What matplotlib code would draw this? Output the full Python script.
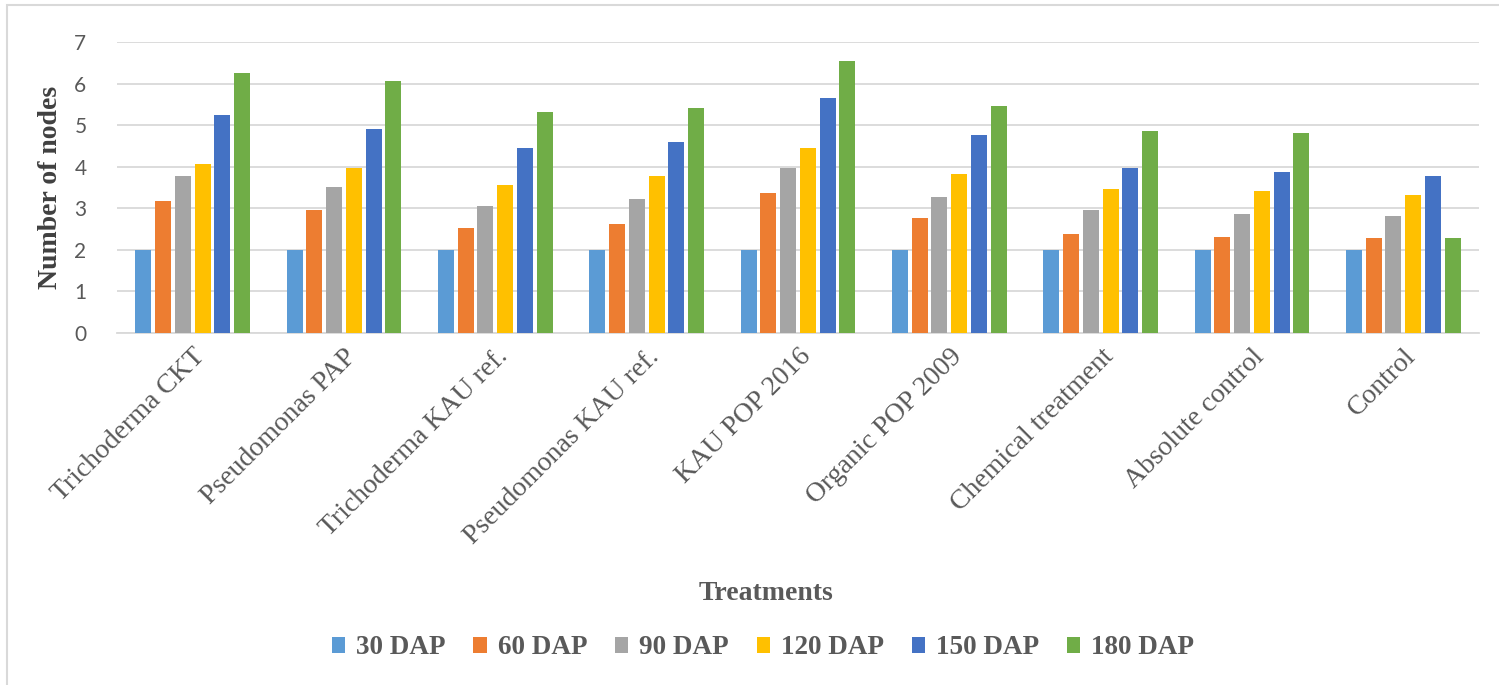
import matplotlib
matplotlib.use("Agg")
import matplotlib.pyplot as plt
from matplotlib.patches import Rectangle
import numpy as np

categories = ["Trichoderma CKT", "Pseudomonas PAP", "Trichoderma KAU ref.",
              "Pseudomonas KAU ref.", "KAU POP 2016", "Organic POP 2009",
              "Chemical treatment", "Absolute control", "Control"]
series_names = ["30 DAP", "60 DAP", "90 DAP", "120 DAP", "150 DAP", "180 DAP"]
dap30 = [2, 2, 2, 2, 2, 2, 2, 2, 2]
dap60 = [3.17, 2.95, 2.52, 2.62, 3.36, 2.76, 2.38, 2.30, 2.28]
dap90 = [3.77, 3.51, 3.05, 3.22, 3.96, 3.27, 2.95, 2.86, 2.81]
dap120 = [4.06, 3.96, 3.56, 3.77, 4.45, 3.82, 3.46, 3.41, 3.31]
dap150 = [5.24, 4.90, 4.45, 4.59, 5.65, 4.76, 3.96, 3.87, 3.77]
dap180 = [6.25, 6.06, 5.31, 5.41, 6.54, 5.46, 4.86, 4.81, 2.28]
colors = ["#5B9BD5", "#ED7D31", "#A5A5A5", "#FFC000", "#4472C4", "#70AD47"]
yticks = [0, 1, 2, 3, 4, 5, 6, 7]

W, H = 1499, 685
fig = plt.figure(figsize=(W / 100, H / 100), dpi=100)
left, right, top, bottom = 117, 1479, 42, 333
ax = fig.add_axes([left / W, 1 - bottom / H, (right - left) / W, (bottom - top) / H])

series = [dap30, dap60, dap90, dap120, dap150, dap180]
x = np.arange(len(categories))
step = 0.1306
width = 0.1055
for i, (vals, c, name) in enumerate(zip(series, colors, series_names)):
    ax.bar(x + (i - 2.5) * step, vals, width=width, color=c, label=name, zorder=3)

ax.set_xlim(-0.5, len(categories) - 0.5)
ax.set_ylim(0, 7)
ax.set_yticks(yticks)
ax.set_yticklabels([str(t) for t in yticks], fontfamily="Lato", fontsize=15, color="#595959")
ax.tick_params(axis="y", length=0, pad=22)
ax.tick_params(axis="x", length=0, pad=8)
ax.set_xticks(x)
ax.set_xticklabels(categories, rotation=45, ha="right", va="top", rotation_mode="anchor",
                   fontfamily="Liberation Serif", fontsize=20, color="#595959")
ax.grid(axis="y", color="#d9d9d9", lw=1.3, zorder=0)
for s in ["top", "right", "left"]:
    ax.spines[s].set_visible(False)
ax.spines["bottom"].set_color("#d9d9d9")
ax.spines["bottom"].set_linewidth(1.3)

fig.text(51 / W, 1 - 187 / H, "Number of nodes", rotation=90, ha="center", va="center",
         fontfamily="Liberation Serif", fontweight="bold", fontsize=20, color="#404040")
fig.text(766 / W, 1 - 594 / H, "Treatments", ha="center", va="center",
         fontfamily="Liberation Serif", fontweight="bold", fontsize=20, color="#595959")

leg = fig.legend(loc="center", bbox_to_anchor=(763 / W, 1 - 648 / H), ncol=6, frameon=False,
                 prop={"family": "Liberation Serif", "weight": "bold", "size": 19.5},
                 handlelength=0.5, handleheight=0.5, handletextpad=0.4, columnspacing=1.02)
for t in leg.get_texts():
    t.set_color("#595959")

fig.add_artist(Rectangle((7 / W, -0.1), 1.2, 1 - 5 / H + 0.1, transform=fig.transFigure,
                         fill=False, edgecolor="#d9d9d9", lw=1.5))

fig.savefig("out.png", dpi=100, facecolor="white")
